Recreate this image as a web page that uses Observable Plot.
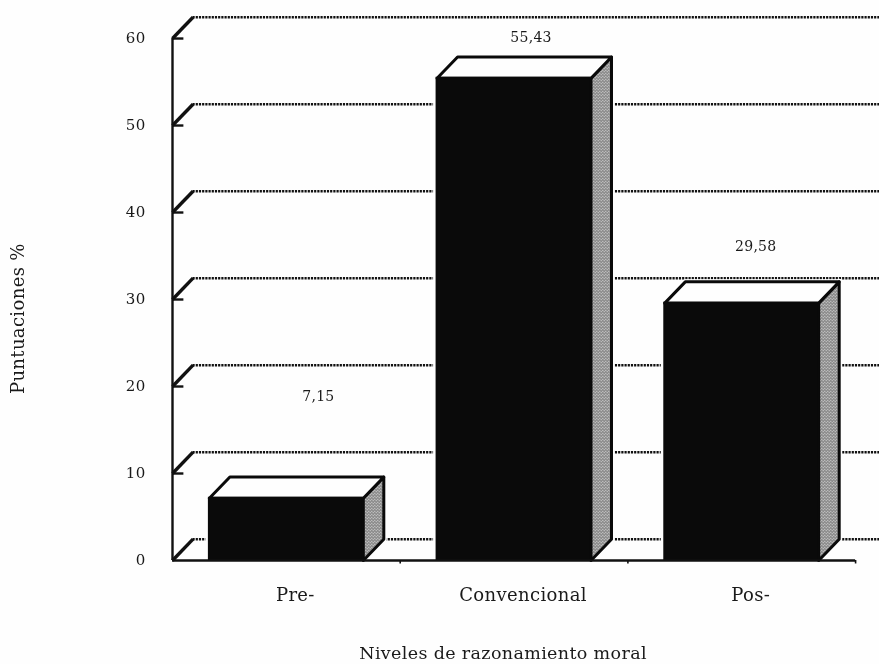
<!DOCTYPE html>
<html>
<head>
<meta charset="utf-8">
<script src="https://cdn.jsdelivr.net/npm/d3@7"></script>
<script src="https://cdn.jsdelivr.net/npm/@observablehq/plot@0.6"></script>
<style>
  html, body { margin: 0; padding: 0; background: #fefefe; }
  svg text { letter-spacing: 0.02em; }
</style>
</head>
<body>
<div id="chart"></div>
<script>
const categories = ["Pre-", "Convencional", "Pos-"];
const scores = [7.15, 55.43, 29.58];
const scoreLabels = ["7,15", "55,43", "29,58"];
const yTicks = [0, 10, 20, 30, 40, 50, 60];
const yTitle = "Puntuaciones %";
const xTitle = "Niveles de razonamiento moral";

// Layout constants (data units of the x and y scales)
const halfBar = 0.338, depthX = 0.09, depthY = 2.45;
const gridEnd = 3.105, topValue = 64.37, tickLen = 0.05;
const labelDy = [-102, -41, -57];
const labelDx = [32, 17, 14];

const bars = categories.map((name, i) => ({
  name, value: scores[i], label: scoreLabels[i],
  x1: i + 0.5 - halfBar, x2: i + 0.5 + halfBar, center: i + 0.5, i
}));
const topFaces = bars.flatMap(b => [
  {id: b.name, x: b.x1, y: b.value},
  {id: b.name, x: b.x1 + depthX, y: b.value + depthY},
  {id: b.name, x: b.x2 + depthX, y: b.value + depthY},
  {id: b.name, x: b.x2, y: b.value},
  {id: b.name, x: b.x1, y: b.value}
]);
const sideFaces = bars.flatMap(b => [
  {id: b.name, x: b.x2, y: 0},
  {id: b.name, x: b.x2 + depthX, y: depthY},
  {id: b.name, x: b.x2 + depthX, y: b.value + depthY},
  {id: b.name, x: b.x2, y: b.value},
  {id: b.name, x: b.x2, y: 0}
]);

const chart = Plot.plot({
  width: 879,
  height: 664,
  marginLeft: 172,
  marginRight: 0,
  marginTop: 0,
  marginBottom: 104,
  style: {fontFamily: "'DejaVu Serif', serif", fontSize: "15px", color: "#1a1a1a", background: "#fefefe", filter: "blur(0.45px)"},
  x: {domain: [0, gridEnd], axis: null},
  y: {domain: [0, topValue], axis: null},
  marks: [
    // back wall grid
    Plot.ruleY(yTicks, {x1: depthX, x2: gridEnd, y: d => d + depthY, stroke: "#111", strokeWidth: 2.5, strokeDasharray: "2.2,1"}),
    // wall diagonals and inward ticks
    Plot.link(yTicks, {x1: 0, y1: d => d, x2: depthX, y2: d => d + depthY, stroke: "#111", strokeWidth: 3.4}),
    Plot.ruleY(yTicks.slice(1), {x1: 0, x2: tickLen, stroke: "#111", strokeWidth: 2.4}),
    // white halo that keeps the grid away from the bars
    Plot.rectY(bars, {x1: "x1", x2: "x2", y1: 0, y2: "value", fill: "#fefefe", stroke: "#fefefe", strokeWidth: 7}),
    Plot.line(sideFaces, {x: "x", y: "y", z: "id", fill: "#fefefe", stroke: "#fefefe", strokeWidth: 6}),
    Plot.line(topFaces, {x: "x", y: "y", z: "id", fill: "#fefefe", stroke: "#fefefe", strokeWidth: 5}),
    // faces
    Plot.line(sideFaces, {x: "x", y: "y", z: "id", fill: "url(#dots)", stroke: "#0a0a0a", strokeWidth: 3, strokeLinejoin: "round"}),
    Plot.line(topFaces, {x: "x", y: "y", z: "id", fill: "#fefefe", stroke: "#0a0a0a", strokeWidth: 3, strokeLinejoin: "round"}),
    Plot.rectY(bars, {x1: "x1", x2: "x2", y1: 0, y2: "value", fill: "#0a0a0a", stroke: "#0a0a0a", strokeWidth: 2}),
    // axes
    Plot.ruleX([0], {y1: 0, y2: 60, stroke: "#111", strokeWidth: 2.4}),
    Plot.ruleY([0], {x1: 0, x2: 3, stroke: "#111", strokeWidth: 2.4}),
    Plot.ruleX([1, 2, 3], {y1: 0, y2: -0.4, stroke: "#111", strokeWidth: 1.6}),
    Plot.axisY({ticks: yTicks, tickSize: 0, tickPadding: 27, anchor: "left", label: null, tickFormat: d => d, fontSize: 15}),
    // category and value labels
    Plot.text(bars, {x: "center", y: 0, text: "name", dy: 35, dx: 9, fontSize: 18}),
    ...bars.map(b => Plot.text([b], {x: "center", y: "value", text: "label", fontSize: 14,
      dx: labelDx[b.i], dy: labelDy[b.i]
    })),
    // titles
    Plot.text([xTitle], {x: 1.5, y: 0, dy: 93, dx: -11, fontSize: 17.5}),
    Plot.text([yTitle], {x: 0, y: 27.8, dx: -154, rotate: -90, fontSize: 18})
  ]
});

// dithered fill for the side faces
const defs = d3.select(chart).insert("defs", ":first-child");
const pat = defs.append("pattern").attr("id", "dots").attr("patternUnits", "userSpaceOnUse").attr("width", 3).attr("height", 3);
pat.append("rect").attr("width", 3).attr("height", 3).attr("fill", "#eeeeee");
pat.append("circle").attr("cx", 0.75).attr("cy", 0.75).attr("r", 0.8).attr("fill", "#222");
pat.append("circle").attr("cx", 2.25).attr("cy", 2.25).attr("r", 0.8).attr("fill", "#222");

document.getElementById("chart").append(chart);
</script>
</body>
</html>
